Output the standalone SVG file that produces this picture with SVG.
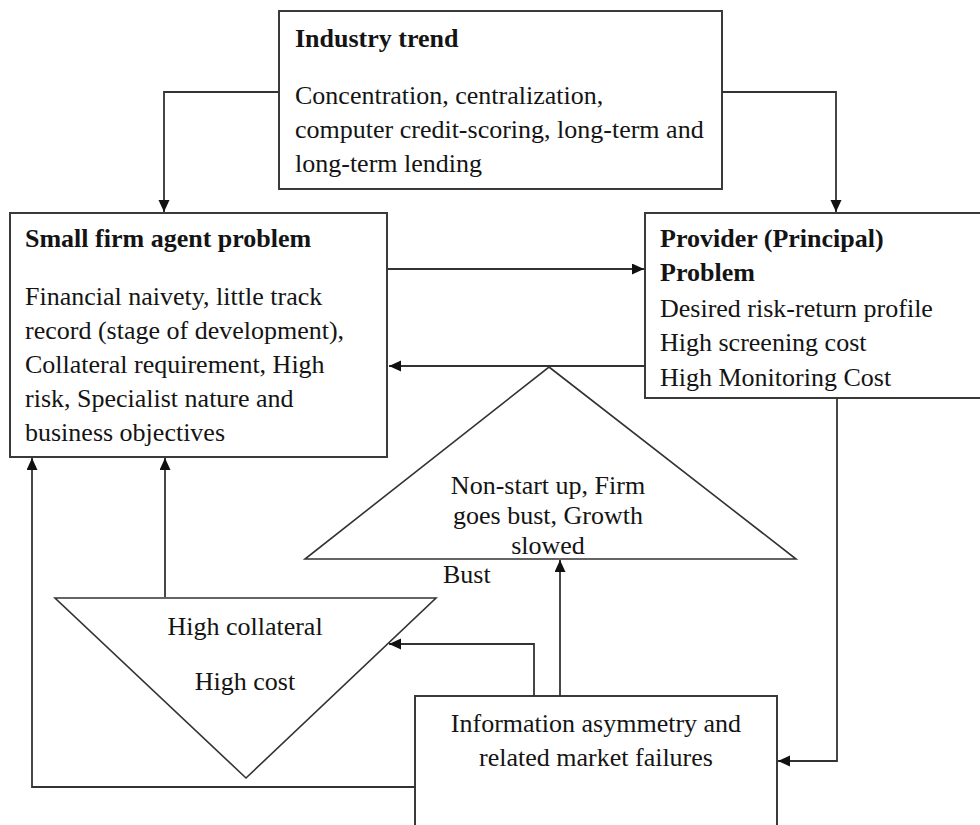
<svg xmlns="http://www.w3.org/2000/svg" width="980" height="825" viewBox="0 0 980 825">
<style>
.box{fill:#fff;stroke:#3a3a3a;stroke-width:2}
.shape{fill:#fff;stroke:#333;stroke-width:1.6}
.conn{fill:none;stroke:#333;stroke-width:1.8}
text{font-family:"Liberation Serif","Times New Roman",serif;font-size:26px;fill:#141414}
.b{font-weight:bold}
.c{text-anchor:middle}
</style>
<defs>
<marker id="ah" markerUnits="userSpaceOnUse" markerWidth="13" markerHeight="12" refX="12" refY="5.5" orient="auto">
<path d="M0,0 L12,5.5 L0,11 z" fill="#111"/>
</marker>
</defs>
<rect width="980" height="825" fill="#fff"/>
<g id="industry-trend">
<rect class="box" x="279" y="11" width="443" height="178"/>
<text class="b" x="295" y="47">Industry trend</text>
<text x="295" y="104">Concentration, centralization,</text>
<text x="295" y="138">computer credit-scoring, long-term and</text>
<text x="295" y="172">long-term lending</text>
</g>
<g id="small-firm">
<rect class="box" x="10" y="213" width="377" height="244"/>
<text class="b" x="25" y="247">Small firm agent problem</text>
<text x="25" y="305">Financial naivety, little track</text>
<text x="25" y="339">record (stage of development),</text>
<text x="25" y="373">Collateral requirement, High</text>
<text x="25" y="407">risk, Specialist nature and</text>
<text x="25" y="441">business objectives</text>
</g>
<g id="provider">
<rect class="box" x="645" y="213" width="345" height="185"/>
<text class="b" x="660" y="247">Provider (Principal)</text>
<text class="b" x="660" y="281">Problem</text>
<text x="660" y="317">Desired risk-return profile</text>
<text x="660" y="351">High screening cost</text>
<text x="660" y="386">High Monitoring Cost</text>
</g>
<g id="outcome">
<polygon class="shape" points="549,367 796,559 305,559"/>
<text class="c" x="548" y="494">Non-start up, Firm</text>
<text class="c" x="548" y="524">goes bust, Growth</text>
<text class="c" x="548" y="554">slowed</text>
</g>
<g id="collateral">
<polygon class="shape" points="55,598 436,598 246,778"/>
<text class="c" x="245" y="635">High collateral</text>
<text class="c" x="245" y="690">High cost</text>
</g>
<g id="information">
<rect class="box" x="415" y="696" width="362" height="140"/>
<text class="c" x="596" y="732">Information asymmetry and</text>
<text class="c" x="596" y="766">related market failures</text>
</g>
<g id="bust-label">
<text x="443" y="583">Bust</text>
</g>
<g id="connectors">
<polyline class="conn" points="279,92 164,92 164,212" marker-end="url(#ah)"/>
<polyline class="conn" points="722,92 836,92 836,212" marker-end="url(#ah)"/>
<line class="conn" x1="388" y1="269" x2="644" y2="269" marker-end="url(#ah)"/>
<line class="conn" x1="645" y1="366" x2="389" y2="366" marker-end="url(#ah)"/>
<polyline class="conn" points="837,398 837,761 778,761" marker-end="url(#ah)"/>
<polyline class="conn" points="415,787 32,787 32,458" marker-end="url(#ah)"/>
<line class="conn" x1="165" y1="597" x2="165" y2="458" marker-end="url(#ah)"/>
<polyline class="conn" points="534,696 534,644 389,644" marker-end="url(#ah)"/>
<line class="conn" x1="560" y1="696" x2="560" y2="560" marker-end="url(#ah)"/>
</g>
</svg>
